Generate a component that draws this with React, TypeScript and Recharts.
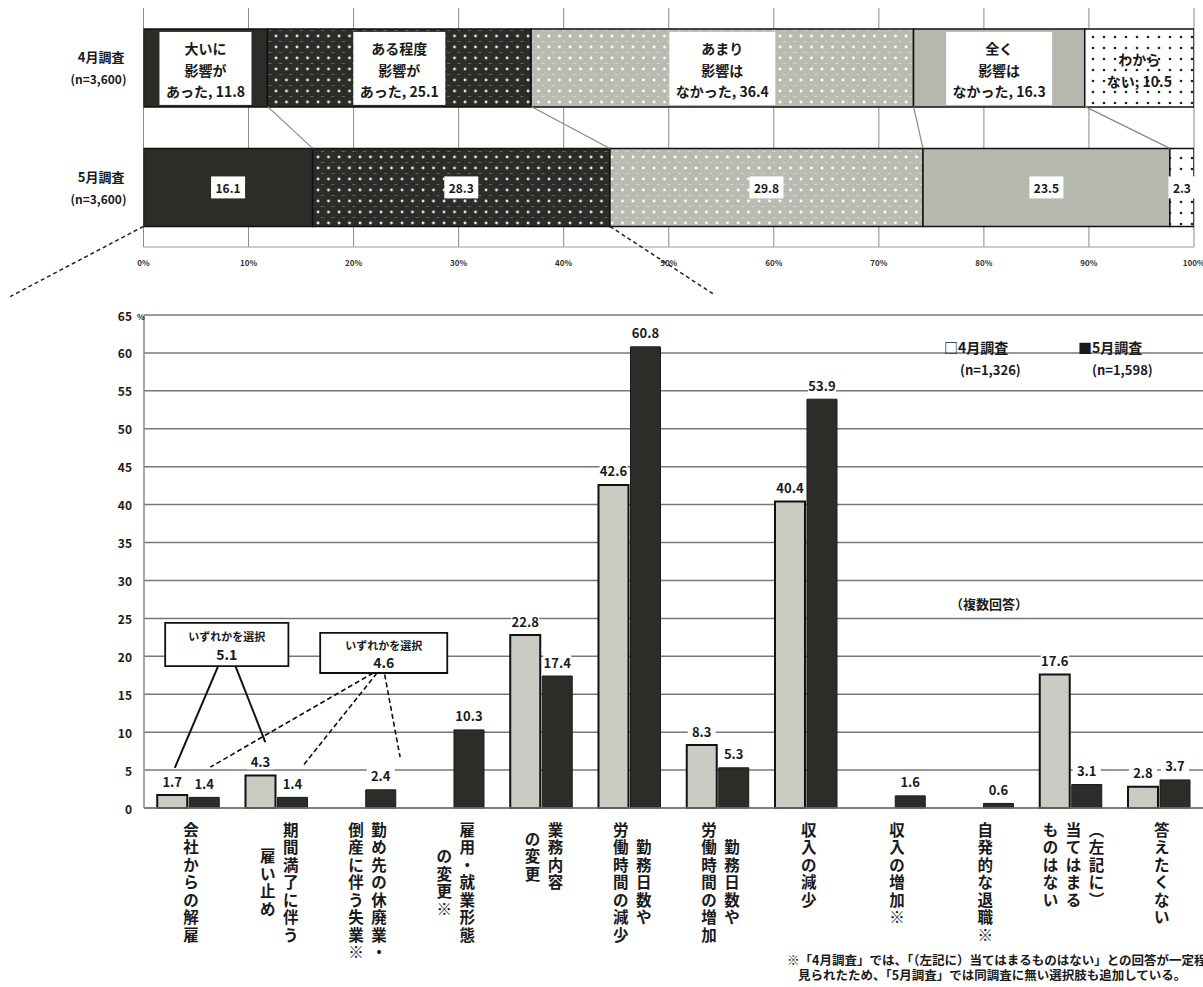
import React from "react";
import {
  ComposedChart,
  Bar,
  XAxis,
  YAxis,
  CartesianGrid,
  LabelList,
  ReferenceLine,
  ReferenceArea,
} from "recharts";

const FONT = "'Noto Sans CJK JP', 'Noto Sans', sans-serif";
const DARK = "#2b2e28";
const LIGHT = "#c9ccc2";
const CAT_GAP = 0.175;

// 上段: 影響の有無 (100%積み上げ)
const surveyRows = ["4月調査", "5月調査"];
const surveyN = ["(n=3,600)", "(n=3,600)"];
const impactKeys = ["a", "b", "c", "d", "e"];
const impactLines = [
  ["大いに", "影響が", "あった"],
  ["ある程度", "影響が", "あった"],
  ["あまり", "影響は", "なかった"],
  ["全く", "影響は", "なかった"],
  ["わから", "ない"],
];
const aprImpact = [11.8, 25.1, 36.4, 16.3, 10.5];
const mayImpact = [16.1, 28.3, 29.8, 23.5, 2.3];
const pctTicks = [0, 10, 20, 30, 40, 50, 60, 70, 80, 90, 100];
const impactFills = [DARK, "url(#dotDark)", "url(#dotLight)", "#b5b8ad", "url(#dotWhite)"];
// 下のグラフへの引き出し線の行き先 (%)
const zoomLineEnds = [-12.7, 54.4];

// 下段: 具体的な影響 (複数回答)
const categories = [
  "会社からの解雇",
  "期間満了に伴う|雇い止め",
  "勤め先の休廃業・|倒産に伴う失業※",
  "雇用・就業形態|の変更※",
  "業務内容|の変更",
  "勤務日数や|労働時間の減少",
  "勤務日数や|労働時間の増加",
  "収入の減少",
  "収入の増加※",
  "自発的な退職※",
  "︵左記に︶|当てはまる|ものはない",
  "答えたくない",
];
const aprValues = [1.7, 4.3, null, null, 22.8, 42.6, 8.3, 40.4, null, null, 17.6, 2.8];
const mayValues = [1.4, 1.4, 2.4, 10.3, 17.4, 60.8, 5.3, 53.9, 1.6, 0.6, 3.1, 3.7];
const yTicks = [0, 5, 10, 15, 20, 25, 30, 35, 40, 45, 50, 55, 60, 65];

// 「いずれかを選択」注記 (x: カテゴリ番号, y: %)
const selectNotes = [
  {
    value: 5.1,
    box: [0.22, 1.5, 18.7, 24.4],
    dashed: false,
    links: [
      [0.77, 18.7, 0.32, 5.3],
      [0.95, 18.7, 1.26, 8.7],
    ],
  },
  {
    value: 4.6,
    box: [1.83, 3.15, 17.8, 23.1],
    dashed: true,
    links: [
      [2.38, 17.8, 0.69, 5.4],
      [2.42, 17.8, 1.66, 5.7],
      [2.5, 17.6, 2.66, 6.7],
    ],
  },
];

const topData = surveyRows.map((row, r) => {
  const vals = r === 0 ? aprImpact : mayImpact;
  const o: any = { row };
  impactKeys.forEach((k, i) => (o[k] = vals[i]));
  return o;
});

const cum = (arr: number[]) => arr.map((_, i) => arr.slice(0, i + 1).reduce((s, v) => s + v, 0));
const cumApr = cum(aprImpact);
const cumMay = cum(mayImpact);

const bottomData = categories.map((name, i) => ({ name, apr: aprValues[i], may: mayValues[i] }));

const txt = { fontFamily: FONT, fontWeight: 700, fill: "#1a1a1a" } as const;

function RowTick(props: any) {
  const { x, y, payload, index } = props;
  return (
    <g>
      <text x={x} y={y - 11} textAnchor="end" dominantBaseline="central" fontSize={13} {...txt}>
        {payload.value}
      </text>
      <text x={x + 2} y={y + 11} textAnchor="end" dominantBaseline="central" fontSize={12} {...txt}>
        {surveyN[index] ?? surveyN[0]}
      </text>
    </g>
  );
}

function makeImpactLabel(seg: number) {
  return (props: any) => {
    const vb = props.viewBox || props;
    const x = Number(props.x ?? vb.x);
    const y = Number(props.y ?? vb.y);
    const w = Number(props.width ?? vb.width);
    const h = Number(props.height ?? vb.height);
    const idx = props.index;
    const cx = x + w / 2;
    const cy = y + h / 2;
    const value = Number(props.value);
    if (idx === 0) {
      const lines = [...impactLines[seg]];
      lines[lines.length - 1] = `${lines[lines.length - 1]}, ${value.toFixed(1)}`;
      const est = (s: string) =>
        [...s].reduce((a, ch) => a + (/[\u3000-\u9fff]/.test(ch) ? 14 : 7), 0);
      const bw = Math.max(...lines.map(est)) + 8;
      const step = 21.5;
      const top = cy + 2 - ((lines.length - 1) * step) / 2;
      return (
        <g>
          {seg !== 4 && <rect x={cx - bw / 2} y={y + 3} width={bw} height={h - 5} fill="#fff" />}
          {lines.map((l, i) => (
            <text key={i} x={cx} y={top + i * step} textAnchor="middle" dominantBaseline="central" fontSize={14} {...txt}>
              {l}
            </text>
          ))}
        </g>
      );
    }
    // 5月: 4月との対応線はこの棒の位置と x スケールから求める
    const ppp = w / mayImpact[seg];
    const x0 = x - (cumMay[seg] - mayImpact[seg]) * ppp;
    const gapPx = (h * 2 * CAT_GAP) / (1 - 2 * CAT_GAP);
    const s = value.toFixed(1);
    const bw = s.length * 7 + 6;
    return (
      <g>
        {seg < 4 && (
          <line x1={x0 + cumApr[seg] * ppp} y1={y - gapPx} x2={x + w} y2={y} stroke="#888" strokeWidth={1.2} />
        )}
        {seg === 0 && (
          <line
            x1={x}
            y1={y + h}
            x2={x0 + zoomLineEnds[0] * ppp}
            y2={y + h * 1.9}
            stroke="#222"
            strokeWidth={1.5}
            strokeDasharray="4 3"
          />
        )}
        {seg === 1 && (
          <line
            x1={x + w}
            y1={y + h}
            x2={x0 + zoomLineEnds[1] * ppp}
            y2={y + h * 1.88}
            stroke="#222"
            strokeWidth={1.5}
            strokeDasharray="4 3"
          />
        )}
        <rect x={cx - bw / 2} y={cy - 11} width={bw} height={22} fill="#fff" />
        <text x={cx} y={cy} textAnchor="middle" dominantBaseline="central" fontSize={12} {...txt}>
          {s}
        </text>
      </g>
    );
  };
}

function CategoryTick(props: any) {
  const { x, y, payload } = props;
  const cols = String(payload.value).split("|");
  const step = 17.5;
  const colGap = 23;
  const maxLen = Math.max(...cols.map((c) => [...c].length));
  const n = cols.length;
  return (
    <g>
      {cols.map((col, ci) => {
        const cx = x + 3 + ((n - 1) / 2 - ci) * colGap;
        const chars = [...col];
        const off = ((maxLen - chars.length) * step) / 2;
        return chars.map((ch, k) => (
          <text
            key={`${ci}-${k}`}
            x={cx}
            y={y + off + step * (k + 0.5)}
            textAnchor="middle"
            dominantBaseline="central"
            fontSize={15.5}
            {...txt}
          >
            {ch}
          </text>
        ));
      })}
    </g>
  );
}

function PctTick(props: any) {
  const { x, y, payload } = props;
  return (
    <g>
      <text x={x} y={y} textAnchor="end" dominantBaseline="central" fontSize={12} {...txt}>
        {payload.value}
      </text>
      {payload.value === 65 && (
        <text x={x + 5} y={y + 1} dominantBaseline="central" fontSize={8} {...txt}>
          %
        </text>
      )}
    </g>
  );
}

function ValueLabel(props: any) {
  const { x, y, width, value } = props;
  if (value == null) return null;
  const cx = Number(x) + Number(width) / 2;
  const ty = Number(y) - 14;
  const s = Number(value).toFixed(1);
  return (
    <g>
      <rect x={cx - 14} y={ty - 9} width={28} height={17} fill="#fff" />
      <text x={cx} y={ty} textAnchor="middle" dominantBaseline="central" fontSize={13} {...txt}>
        {s}
      </text>
    </g>
  );
}

function NoteBox(value: number) {
  return (props: any) => {
    const { x, y, width, height } = props.viewBox;
    const cx = x + width / 2;
    return (
      <g>
        <text x={cx} y={y + height * 0.3} textAnchor="middle" dominantBaseline="central" fontSize={11} {...txt}>
          いずれかを選択
        </text>
        <text x={cx} y={y + height * 0.72} textAnchor="middle" dominantBaseline="central" fontSize={14} {...txt}>
          {value.toFixed(1)}
        </text>
      </g>
    );
  };
}

export default function App() {
  return (
    <div
      style={{
        position: "absolute",
        left: 0,
        top: 0,
        width: 1203,
        height: 987,
        background: "#fff",
        overflow: "hidden",
        fontFamily: FONT,
      }}
    >
      <div style={{ position: "absolute", left: 0, top: 0 }}>
        <ComposedChart
          width={1203}
          height={305}
          data={topData}
          layout="vertical"
          barCategoryGap={`${CAT_GAP * 100}%`}
          margin={{ top: 8, right: 9, bottom: 28, left: 13.5 }}
        >
          <defs>
            <pattern id="dotDark" width="10.5" height="11" patternUnits="userSpaceOnUse">
              <rect width="10.5" height="11" fill={DARK} />
              <circle cx="3" cy="3" r="1.4" fill="#e8e8e8" />
              <rect x="6" y="8" width="3" height="0.8" fill="#777" />
            </pattern>
            <pattern id="dotLight" width="10.5" height="11" patternUnits="userSpaceOnUse">
              <rect width="10.5" height="11" fill="#b9bbb1" />
              <circle cx="3" cy="3" r="1.4" fill="#fff" />
              <rect x="6" y="8" width="3" height="0.8" fill="#e0e0e0" />
            </pattern>
            <pattern id="dotWhite" width="11" height="11" patternUnits="userSpaceOnUse">
              <rect width="11" height="11" fill="#fff" />
              <circle cx="4" cy="4" r="1.3" fill="#222" />
            </pattern>
          </defs>
          <CartesianGrid horizontal={false} stroke="#8a8a8a" />
          <XAxis
            type="number"
            domain={[0, 100]}
            ticks={pctTicks}
            allowDataOverflow
            tickFormatter={(v: number) => `${v}%`}
            tick={{ fontSize: 8, fontWeight: 700, fill: "#333", fontFamily: FONT }}
            tickLine={false}
            tickMargin={7}
            axisLine={{ stroke: "#999" }}
          />
          <YAxis
            type="category"
            dataKey="row"
            width={130}
            tickLine={false}
            axisLine={false}
            tickSize={0}
            tickMargin={19}
            tick={<RowTick />}
          />
          {impactKeys.map((k, i) => (
            <Bar
              key={k}
              dataKey={k}
              stackId="s"
              fill={impactFills[i]}
              stroke="#111"
              strokeWidth={1.5}
              isAnimationActive={false}
            >
              <LabelList dataKey={k} content={makeImpactLabel(i)} />
            </Bar>
          ))}
        </ComposedChart>
      </div>

      <div style={{ position: "absolute", left: 0, top: 300 }}>
        <ComposedChart
          width={1203}
          height={687}
          data={bottomData}
          barCategoryGap="15%"
          barGap={2}
          margin={{ top: 15, right: 0, bottom: 149, left: 104 }}
        >
          <CartesianGrid vertical={false} stroke="#777" strokeWidth={1.5} />
          <XAxis
            dataKey="name"
            interval={0}
            tickLine={false}
            tickSize={0}
            tickMargin={12}
            axisLine={{ stroke: "#777", strokeWidth: 1.5 }}
            tick={<CategoryTick />}
          />
          <XAxis xAxisId="n" type="number" domain={[0, 12]} hide allowDataOverflow />
          <YAxis
            domain={[0, 65]}
            ticks={yTicks}
            width={40}
            tickLine={false}
            tickSize={0}
            tickMargin={12}
            axisLine={{ stroke: "#888", strokeWidth: 1.5 }}
            tick={<PctTick />}
          />
          <Bar dataKey="apr" fill={LIGHT} stroke="#111" strokeWidth={2} isAnimationActive={false}>
            <LabelList dataKey="apr" content={<ValueLabel />} />
          </Bar>
          <Bar dataKey="may" fill={DARK} stroke="#1a1a1a" strokeWidth={1} isAnimationActive={false}>
            <LabelList dataKey="may" content={<ValueLabel />} />
          </Bar>
          {selectNotes.map((note, ni) =>
            note.links.map((l, li) => (
              <ReferenceLine
                key={`l${ni}-${li}`}
                xAxisId="n"
                segment={[
                  { x: l[0], y: l[1] },
                  { x: l[2], y: l[3] },
                ]}
                stroke="#111"
                strokeWidth={note.dashed ? 1.6 : 2}
                strokeDasharray={note.dashed ? "5 3" : undefined}
                ifOverflow="visible"
              />
            ))
          )}
          {selectNotes.map((note, ni) => (
            <ReferenceArea
              key={`b${ni}`}
              xAxisId="n"
              x1={note.box[0]}
              x2={note.box[1]}
              y1={note.box[2]}
              y2={note.box[3]}
              fill="#fff"
              fillOpacity={1}
              stroke="#111"
              strokeWidth={1.8}
              ifOverflow="visible"
              label={NoteBox(note.value)}
            />
          ))}
        </ComposedChart>
      </div>

      <div style={{ position: "absolute", left: 944, top: 337, fontSize: 14, fontWeight: 700, color: "#1a1a1a" }}>
        □4月調査
      </div>
      <div style={{ position: "absolute", left: 960, top: 360, fontSize: 13, fontWeight: 700, color: "#1a1a1a" }}>
        (n=1,326)
      </div>
      <div style={{ position: "absolute", left: 1078, top: 337, fontSize: 14, fontWeight: 700, color: "#1a1a1a" }}>
        ■5月調査
      </div>
      <div style={{ position: "absolute", left: 1092, top: 360, fontSize: 13, fontWeight: 700, color: "#1a1a1a" }}>
        (n=1,598)
      </div>
      <div style={{ position: "absolute", left: 950, top: 594, fontSize: 13, fontWeight: 700, color: "#1a1a1a" }}>
        （複数回答）
      </div>
      <div
        style={{
          position: "absolute",
          left: 787,
          top: 952,
          fontSize: 12.5,
          fontWeight: 700,
          color: "#1a1a1a",
          whiteSpace: "nowrap",
          lineHeight: "15px",
        }}
      >
        ※「4月調査」では、「（左記に）当てはまるものはない」との回答が一定程度
      </div>
      <div
        style={{
          position: "absolute",
          left: 798,
          top: 967,
          fontSize: 12.5,
          fontWeight: 700,
          color: "#1a1a1a",
          whiteSpace: "nowrap",
          lineHeight: "15px",
        }}
      >
        見られたため、「5月調査」では同調査に無い選択肢も追加している。
      </div>
    </div>
  );
}
